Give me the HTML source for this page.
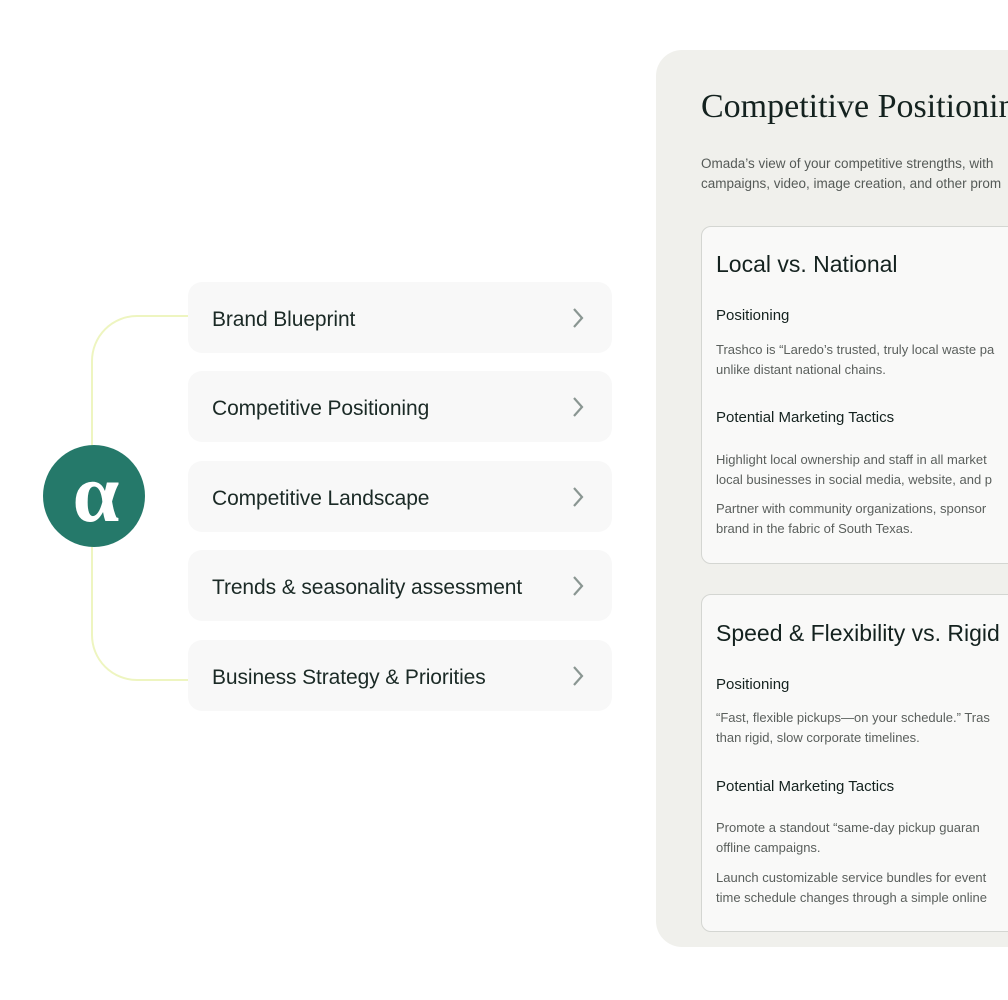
<!DOCTYPE html>
<html><head><style>
body{margin:0;width:1008px;height:1000px;background:#fff;position:relative;overflow:hidden;font-family:"Liberation Sans",sans-serif;color:#1b2a26}
.item{position:absolute;left:188px;width:424px;height:71px;background:#f8f8f8;border-radius:14px}
.item span{position:absolute;left:24px;top:2px;line-height:72px;font-size:21px;letter-spacing:-0.1px}
.item svg{position:absolute;right:28px;top:25px}
.panel{position:absolute;left:656px;top:50px;width:420px;height:897px;background:#f0f0ec;border-radius:26px}
.card{position:absolute;left:701px;width:340px;background:#f9f9f8;border:1px solid #d4d6d2;border-radius:10px;overflow:hidden}
.abs{position:absolute;white-space:nowrap}
.ct{font-size:23px;color:#14221f}
.sh{font-size:15px;color:#14221f}
.bd{font-size:13px;color:#5a5f5c;line-height:20px}
</style></head><body>
<svg style="position:absolute;left:0;top:0" width="200" height="1000">
<path d="M188 316 H137 A45 45 0 0 0 92 361 V635 A45 45 0 0 0 137 680 H188" fill="none" stroke="#eef5c0" stroke-width="2"/>
<circle cx="94" cy="496" r="51" fill="#25796a"/>
<text x="96" y="521" text-anchor="middle" font-family="Liberation Serif,serif" font-weight="bold" font-size="84" fill="#fff">α</text>
</svg>
<div class="item" style="top:282px"><span>Brand Blueprint</span><svg width="12" height="22"><path d="M2 2 L10 11 L2 20" fill="none" stroke="#8a9692" stroke-width="2.2"/></svg></div>
<div class="item" style="top:371px"><span>Competitive Positioning</span><svg width="12" height="22"><path d="M2 2 L10 11 L2 20" fill="none" stroke="#8a9692" stroke-width="2.2"/></svg></div>
<div class="item" style="top:461px"><span>Competitive Landscape</span><svg width="12" height="22"><path d="M2 2 L10 11 L2 20" fill="none" stroke="#8a9692" stroke-width="2.2"/></svg></div>
<div class="item" style="top:550px"><span>Trends &amp; seasonality assessment</span><svg width="12" height="22"><path d="M2 2 L10 11 L2 20" fill="none" stroke="#8a9692" stroke-width="2.2"/></svg></div>
<div class="item" style="top:640px"><span>Business Strategy &amp; Priorities</span><svg width="12" height="22"><path d="M2 2 L10 11 L2 20" fill="none" stroke="#8a9692" stroke-width="2.2"/></svg></div>

<div class="panel"></div>
<div class="abs" style="left:701px;top:88px;font-family:'Liberation Serif',serif;font-size:34px;color:#14221f">Competitive Positioning</div>
<div class="abs" style="left:701px;top:154px;font-size:13.5px;color:#555a57;line-height:20px">Omada’s view of your competitive strengths, with<br>campaigns, video, image creation, and other prom</div>

<div class="card" style="top:226px;height:336px"></div>
<div class="abs ct" style="left:716px;top:251px">Local vs. National</div>
<div class="abs sh" style="left:716px;top:307px">Positioning</div>
<div class="abs bd" style="left:716px;top:340px">Trashco is “Laredo’s trusted, truly local waste pa<br>unlike distant national chains.</div>
<div class="abs sh" style="left:716px;top:409px">Potential Marketing Tactics</div>
<div class="abs bd" style="left:716px;top:450px">Highlight local ownership and staff in all market<br>local businesses in social media, website, and p</div>
<div class="abs bd" style="left:716px;top:499px">Partner with community organizations, sponsor<br>brand in the fabric of South Texas.</div>

<div class="card" style="top:594px;height:336px"></div>
<div class="abs ct" style="left:716px;top:620px">Speed &amp; Flexibility vs. Rigid</div>
<div class="abs sh" style="left:716px;top:676px">Positioning</div>
<div class="abs bd" style="left:716px;top:708px">“Fast, flexible pickups—on your schedule.” Tras<br>than rigid, slow corporate timelines.</div>
<div class="abs sh" style="left:716px;top:778px">Potential Marketing Tactics</div>
<div class="abs bd" style="left:716px;top:818px">Promote a standout “same-day pickup guaran<br>offline campaigns.</div>
<div class="abs bd" style="left:716px;top:868px">Launch customizable service bundles for event<br>time schedule changes through a simple online</div>
</body></html>
